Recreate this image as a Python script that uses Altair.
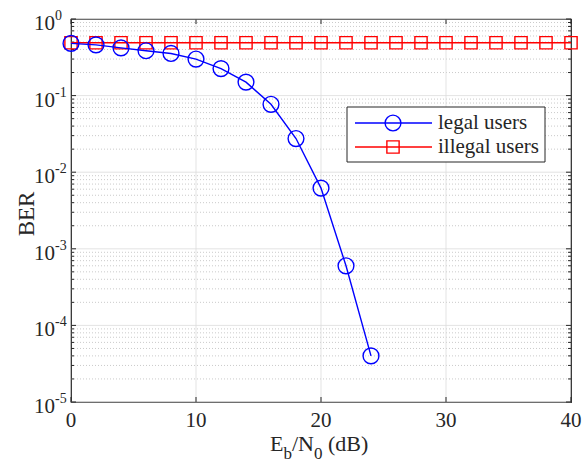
import altair as alt
import pandas as pd

# ---- data ----
snr_legal = [0, 2, 4, 6, 8, 10, 12, 14, 16, 18, 20, 22, 24]
ber_legal = [0.48, 0.46, 0.42, 0.385, 0.355, 0.30, 0.225, 0.15, 0.077, 0.0275, 0.0062, 0.0006, 0.00004]
snr_illegal = [0, 2, 4, 6, 8, 10, 12, 14, 16, 18, 20, 22, 24, 26, 28, 30, 32, 34, 36, 38, 40]
ber_illegal = [0.49, 0.49, 0.49, 0.49, 0.49, 0.49, 0.49, 0.49, 0.49, 0.49, 0.49,
               0.49, 0.49, 0.49, 0.49, 0.49, 0.49, 0.49, 0.49, 0.49, 0.49]
x_ticks = [0, 10, 20, 30, 40]
x_tick_labels = ["0", "10", "20", "30", "40"]
x_grid = [10, 20, 30]
y_decades = [1e-5, 1e-4, 1e-3, 1e-2, 1e-1, 1]
y_exponents = ["-5", "-4", "-3", "-2", "-1", "0"]
y_minor = [m * d for d in [1e-5, 1e-4, 1e-3, 1e-2, 1e-1] for m in [2, 3, 4, 5, 6, 7, 8, 9]]
legend_labels = ["legal users", "illegal users"]

FONT = "Liberation Serif"
TXT = "#262626"
BLUE = "#0000ff"
RED = "#ff0000"
W, H = 500, 383

legal = pd.DataFrame({"snr": snr_legal, "ber": ber_legal})
illegal = pd.DataFrame({"snr": snr_illegal, "ber": ber_illegal})
ylab = pd.DataFrame({"ber": y_decades, "exp": y_exponents})
minor = pd.DataFrame({"ber": y_minor})
major = pd.DataFrame({"ber": y_decades})
xt = pd.DataFrame({"snr": x_ticks, "lab": x_tick_labels})
xg = pd.DataFrame({"snr": x_grid})

xscale = alt.Scale(domain=[0, 40], nice=False, zero=False)
yscale = alt.Scale(type="log", domain=[1e-5, 1], nice=False)

X = lambda: alt.X("snr:Q", scale=xscale, axis=None)
Y = lambda: alt.Y("ber:Q", scale=yscale, axis=None)

# grids
minor_grid = alt.Chart(minor).mark_rule(color="#bdbdbd", strokeWidth=0.8, strokeDash=[1, 2]).encode(
    y=Y(), x=alt.value(0), x2=alt.value(W))
major_grid = alt.Chart(major).mark_rule(color="#dcdcdc", strokeWidth=0.8).encode(
    y=Y(), x=alt.value(0), x2=alt.value(W))
x_gridl = alt.Chart(xg).mark_rule(color="#dcdcdc", strokeWidth=0.8).encode(
    x=X(), y=alt.value(0), y2=alt.value(H))

# inward ticks
tk = dict(color=TXT, strokeWidth=1)
xt_bot = alt.Chart(xt).mark_rule(**tk).encode(x=X(), y=alt.value(H), y2=alt.value(H - 5))
xt_top = alt.Chart(xt).mark_rule(**tk).encode(x=X(), y=alt.value(0), y2=alt.value(5))
yt_l = alt.Chart(major).mark_rule(**tk).encode(y=Y(), x=alt.value(0), x2=alt.value(5))
yt_r = alt.Chart(major).mark_rule(**tk).encode(y=Y(), x=alt.value(W), x2=alt.value(W - 5))
ym_l = alt.Chart(minor).mark_rule(**tk).encode(y=Y(), x=alt.value(0), x2=alt.value(3))
ym_r = alt.Chart(minor).mark_rule(**tk).encode(y=Y(), x=alt.value(W), x2=alt.value(W - 3))

# x tick labels
x_labels = alt.Chart(xt).mark_text(font=FONT, fontSize=21, color=TXT, align="center",
                                   baseline="alphabetic").encode(
    x=X(), y=alt.value(H + 25), text="lab:N")

# y tick labels as 10^k
ten = alt.Chart(ylab).mark_text(font=FONT, fontSize=21, color=TXT, align="right",
                                baseline="middle", dy=5).encode(
    y=Y(), x=alt.value(-16), text=alt.value("10"))
expo = alt.Chart(ylab).mark_text(font=FONT, fontSize=14, color=TXT, align="left",
                                 baseline="middle", dy=-3).encode(
    y=Y(), x=alt.value(-16), text="exp:N")

# series
ill_line = alt.Chart(illegal).mark_line(color=RED, strokeWidth=1.4).encode(x=X(), y=Y())
ill_pts = alt.Chart(illegal).mark_point(shape="square", size=150, filled=False, color=RED,
                                        strokeWidth=1.4, opacity=1).encode(x=X(), y=Y())
leg_line = alt.Chart(legal).mark_line(color=BLUE, strokeWidth=1.4).encode(x=X(), y=Y())
leg_pts = alt.Chart(legal).mark_point(shape="circle", size=250, filled=False, color=BLUE,
                                      strokeWidth=1.4, opacity=1).encode(x=X(), y=Y())

# axis titles
one = pd.DataFrame({"k": [0]})
ty = 432
tsub = 440
def t(txt, x, y, size, align="left", angle=0, baseline="alphabetic"):
    return alt.Chart(one).mark_text(font=FONT, fontSize=size, color=TXT, align=align,
                                    baseline=baseline, angle=angle).encode(
        x=alt.value(x), y=alt.value(y), text=alt.value(txt))

xtitle = [
    t("E", 199, ty, 22),
    t("b", 212.5, tsub, 17),
    t("/N", 221, ty, 22),
    t("0", 243, tsub, 17),
    t("(dB)", 257, ty, 22),
]
ytitle = t("BER", -44, 195, 23, align="center", angle=270, baseline="middle")

# legend
box = alt.Chart(one).mark_rect(fill="white", stroke=TXT, strokeWidth=1).encode(
    x=alt.value(276), x2=alt.value(474), y=alt.value(88), y2=alt.value(143))
leg_items = []
for lab, col, shp, sz, yy in [(legend_labels[0], BLUE, "circle", 250, 104),
                              (legend_labels[1], RED, "square", 150, 128)]:
    leg_items.append(alt.Chart(one).mark_rule(color=col, strokeWidth=1.4).encode(
        x=alt.value(284), x2=alt.value(361), y=alt.value(yy)))
    leg_items.append(alt.Chart(one).mark_point(shape=shp, size=sz, filled=False, color=col,
                                               strokeWidth=1.4, opacity=1).encode(
        x=alt.value(322), y=alt.value(yy)))
    leg_items.append(alt.Chart(one).mark_text(font=FONT, fontSize=21, color=TXT, align="left",
                                              baseline="middle").encode(
        x=alt.value(367), y=alt.value(yy), text=alt.value(lab)))

chart = alt.layer(
    minor_grid, major_grid, x_gridl,
    xt_bot, xt_top, yt_l, yt_r, ym_l, ym_r,
    x_labels, ten, expo,
    ill_line, ill_pts, leg_line, leg_pts,
    *xtitle, ytitle,
    box, *leg_items,
).properties(
    width=W, height=H,
    autosize=alt.AutoSizeParams(type="none"),
    padding={"left": 71, "top": 19, "right": 11, "bottom": 61},
    background="white",
).configure_view(stroke=TXT, strokeWidth=1.2)

chart.save("out.html", embed_options={"renderer": "svg", "actions": False})
